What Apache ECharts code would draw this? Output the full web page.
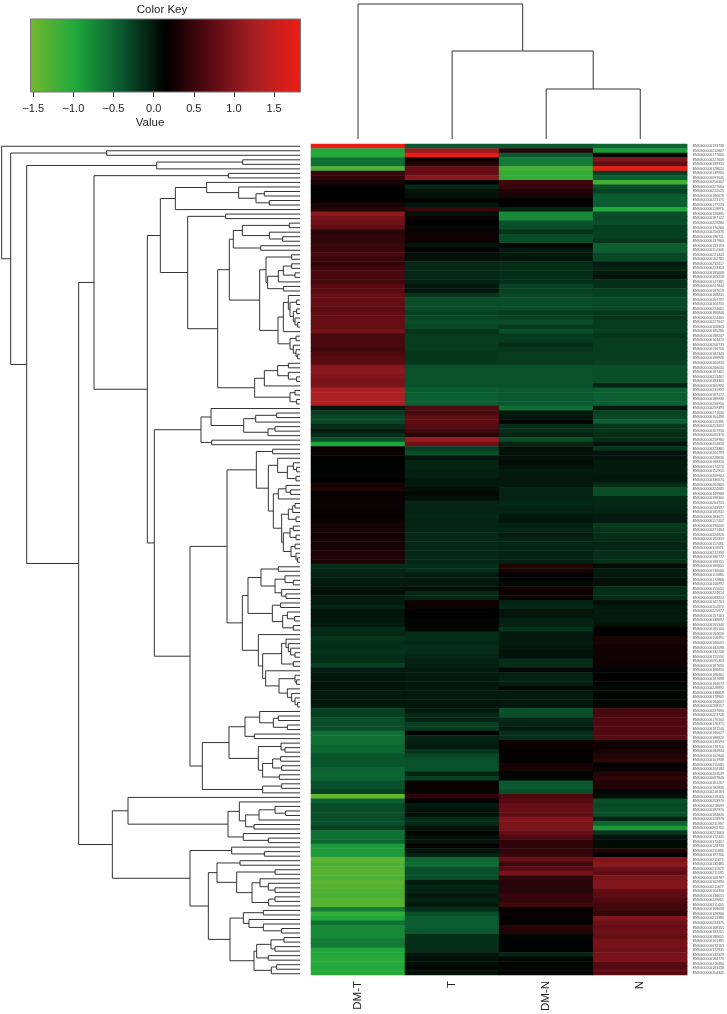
<!DOCTYPE html>
<html>
<head>
<meta charset="utf-8">
<style>html,body{margin:0;padding:0;background:#fff}#c{width:727px;height:1014px}</style>
<script src="https://cdn.jsdelivr.net/npm/echarts@6/dist/echarts.min.js"></script>
</head>
<body>
<div id="c"></div>
<script>
const samples = ['DM-T', 'T', 'DM-N', 'N'];

const colDMT = [
1.83,-.97,-1.03,-.57,-.57,-1.3,.5,.45,.3,.17,
.14,.14,.17,.3,.35,1.1,.9,.85,.75,.4,
.45,.45,.5,.5,.6,.5,.45,.55,.6,.6,
.55,.7,.7,.8,.8,.8,.75,.75,.8,.8,
.8,.9,.6,.6,.6,.55,.65,.7,.75,1.05,
1.05,1.0,.95,.95,1.3,1.3,1.3,1.3,.02,-.22,
-.3,-.3,-.14,-.02,-.14,-.36,-.97,.21,.21,.14,
.14,.14,.12,.12,.14,.3,.35,.19,.21,.21,
.21,.19,.18,.21,.28,.3,.28,.28,.28,.3,
.33,.33,.33,-.14,-.1,-.07,-.02,-.02,.02,.05,
-.02,-.02,-.07,0,.02,0,-.02,-.14,-.1,-.18,
-.14,-.14,-.18,-.14,-.14,-.26,-.02,0,0,.02,
.03,-.02,0,0,-.02,-.26,-.26,-.33,-.33,-.33,
-.57,-.57,-.57,-.5,-.5,-.38,-.38,-.38,-.47,-.5,
-.5,-.36,-.36,-.26,-1.45,-.44,-.33,-.33,-.33,-.33,
-.36,-.26,-.57,-.57,-.5,-.87,-.87,-.87,-1.42,-1.27,
-1.33,-1.33,-1.27,-1.38,-1.33,-1.27,-1.27,-1.33,-1.33,-.65,
-1.1,-.97,-.57,-.75,-.75,-.75,-.65,-.65,-.97,-.97,
-1.05,-1.03,-.97,-1.03];

const colT = [
-.4,1.15,1.75,.25,.35,.8,.8,1.05,.14,-.1,
.02,.05,.11,.02,.5,.05,.21,.14,.11,.21,
.25,.21,.02,.14,.05,.05,-.1,-.1,-.1,-.1,
-.07,0,0,-.18,-.33,-.33,-.33,-.26,-.3,-.33,
-.3,-.18,-.22,-.22,-.22,-.22,-.18,-.18,-.22,-.36,
-.36,-.36,-.36,-.36,-.44,-.44,-.44,-.44,.65,.6,
.75,.75,.7,.55,.4,1.15,.9,-.26,-.33,.02,
-.07,-.07,-.05,-.05,0,0,.05,.09,.05,-.07,
-.07,-.07,-.1,-.07,-.07,-.09,-.1,-.1,-.1,-.1,
-.1,-.1,-.1,-.14,-.14,-.02,-.02,-.02,.05,-.09,
-.09,.25,.21,.14,.14,.11,.11,.11,-.14,-.14,
-.1,-.13,-.13,-.1,-.05,-.05,-.02,-.02,-.02,-.01,
-.01,-.01,-.01,0,0,0,-.1,-.07,-.26,-.22,
.14,-.07,-.05,-.02,-.18,-.3,-.36,-.36,-.36,-.07,
-.26,.21,.21,.21,.45,.14,-.02,.02,.05,-.14,
-.1,.02,.11,.05,.02,.17,.02,-.07,-.5,-.57,
-.36,-.36,-.33,-.02,-.1,-.07,-.02,-.07,-.02,-.14,
-.33,-.44,-.44,-.44,-.4,-.14,-.14,-.14,-.14,.02,
.05,.05,.1,.05];

const colDMN = [
-.4,.4,-.4,-.65,-.65,-1.25,-1.1,-1.1,.55,.5,
.35,.3,.14,.14,-.07,-.75,-.75,-.36,-.33,-.18,
-.33,-.33,.11,-.02,-.02,.02,-.14,-.14,-.14,-.14,
-.14,-.26,-.26,-.3,-.33,-.33,-.33,-.22,-.26,-.33,
-.22,-.36,-.22,-.22,-.14,-.18,-.22,-.22,-.22,-.36,
-.36,-.36,-.36,-.36,-.4,-.4,-.4,-.4,-.57,-.02,
.02,.14,-.14,-.14,-.07,-.33,-.07,.05,.05,.05,
.08,.02,-.02,-.02,-.01,0,-.07,-.07,-.07,-.1,
-.07,-.07,0,0,-.05,-.09,-.02,-.09,-.09,-.09,
-.07,-.07,-.05,.35,.3,.14,.14,.09,.25,.23,
.21,-.07,-.1,.02,0,-.05,-.07,-.18,-.01,-.01,
-.02,0,.03,.03,-.14,-.14,.11,-.05,-.07,-.05,
.1,-.02,-.02,-.02,-.02,-.36,-.33,-.1,-.07,-.02,
-.14,-.14,.23,.21,.17,.17,.14,.3,.3,.11,
.11,-.4,-.4,-.33,.65,.7,.8,.8,.75,1.0,
.95,.95,.8,.65,.45,.45,.45,.5,.8,.55,
.7,.95,.45,.4,.4,.4,.5,.45,.55,.17,
.21,.17,.21,.4,.35,.11,.12,.12,.14,-.07,
.11,.11,.11,.11];

const colN = [
-.5,-.87,.09,1.0,.75,1.8,-.26,-.44,-1.2,-.33,
-.26,-.44,-.44,-.44,-.97,-.33,-.3,-.33,-.26,-.26,
-.26,-.18,-.44,-.44,-.3,-.3,-.02,-.07,-.02,.02,
-.14,-.14,-.26,-.26,-.3,-.3,-.3,-.18,-.18,-.22,
-.22,-.26,-.18,-.22,-.22,-.22,-.22,-.22,-.26,-.33,
-.33,-.33,-.33,-.07,-.44,-.44,-.44,-.44,0,-.26,
-.3,-.44,-.18,-.18,-.14,-.14,.02,-.18,.02,.02,
-.02,-.02,-.02,0,0,-.14,-.33,-.33,-.1,-.1,
-.08,-.07,-.02,-.02,-.22,-.18,-.14,-.14,-.07,-.09,
-.13,-.14,-.14,.08,-.02,-.01,.05,.05,-.14,-.14,
-.14,.05,0,-.02,-.02,-.02,.05,.17,.17,.3,
.3,.25,.25,.25,.23,.23,.12,.14,.17,.12,
.1,.1,.1,.1,.11,.6,.6,.65,.65,.65,
.65,.7,.25,.25,.3,.35,.4,.17,.21,.35,
.45,.35,.35,.11,.05,-.33,-.3,-.33,-.33,-.07,
-.5,-.87,-.18,.02,.08,.08,.35,.14,1.0,1.05,
.85,.75,.95,1.0,1.0,.75,.75,.65,.55,.55,
.45,1.0,.85,.8,.85,.8,.9,.9,.85,.95,
.95,.7,.7,.7];

const geneLabels = [
'ENSG00000193738','ENSG00000212607','ENSG00000177666','ENSG00000227646','ENSG00000199953','ENSG00000128624','ENSG00000139900','ENSG00000091645',
'ENSG00000250162','ENSG00000227660','ENSG00000222525','ENSG00000186676','ENSG00000223175','ENSG00000177233','ENSG00000118976','ENSG00000126895',
'ENSG00000197122','ENSG00000229280','ENSG00000176260','ENSG00000256876','ENSG00000196711','ENSG00000137960','ENSG00000133193','ENSG00000114346',
'ENSG00000221443','ENSG00000162782','ENSG00000232417','ENSG00000223304','ENSG00000185668','ENSG00000163218','ENSG00000147381','ENSG00000247844',
'ENSG00000187019','ENSG00000188431','ENSG00000264792','ENSG00000164755','ENSG00000224661','ENSG00000186846','ENSG00000224405','ENSG00000227647',
'ENSG00000168843','ENSG00000185286','ENSG00000188247','ENSG00000164472','ENSG00000266733','ENSG00000134750','ENSG00000182343','ENSG00000198948',
'ENSG00000260934','ENSG00000268034','ENSG00000187461','ENSG00000213467','ENSG00000183305','ENSG00000165990','ENSG00000231992','ENSG00000187172',
'ENSG00000189930','ENSG00000256950','ENSG00000259393','ENSG00000271630','ENSG00000164498','ENSG00000115396','ENSG00000253052','ENSG00000167950',
'ENSG00000065376','ENSG00000259780','ENSG00000254818','ENSG00000223381','ENSG00000264793','ENSG00000228630','ENSG00000188310','ENSG00000174270',
'ENSG00000152910','ENSG00000269904','ENSG00000136674','ENSG00000264865','ENSG00000224681','ENSG00000149988','ENSG00000198300','ENSG00000264753',
'ENSG00000243597','ENSG00000185941','ENSG00000183671','ENSG00000117402','ENSG00000196600','ENSG00000271464','ENSG00000224926','ENSG00000182359',
'ENSG00000117481','ENSG00000118971','ENSG00000222390','ENSG00000188772','ENSG00000198155','ENSG00000186805','ENSG00000136066','ENSG00000115885',
'ENSG00000172886','ENSG00000156992','ENSG00000155051','ENSG00000224814','ENSG00000088224','ENSG00000142763','ENSG00000114374','ENSG00000225972',
'ENSG00000157163','ENSG00000138692','ENSG00000165346','ENSG00000165140','ENSG00000164626','ENSG00000158491','ENSG00000180091','ENSG00000182098',
'ENSG00000132208','ENSG00000155550','ENSG00000095303','ENSG00000187690','ENSG00000186430','ENSG00000186461','ENSG00000187698','ENSG00000184673',
'ENSG00000228892','ENSG00000138859','ENSG00000178905','ENSG00000184602','ENSG00000268157','ENSG00000237660','ENSG00000223746','ENSG00000176104',
'ENSG00000176375','ENSG00000181240','ENSG00000186627','ENSG00000188820','ENSG00000136593','ENSG00000178710','ENSG00000184944','ENSG00000162840',
'ENSG00000167948','ENSG00000215085','ENSG00000204184','ENSG00000204539','ENSG00000087846','ENSG00000161267','ENSG00000182838','ENSG00000218163',
'ENSG00000219165','ENSG00000253970','ENSG00000218695','ENSG00000182970','ENSG00000184830','ENSG00000128978','ENSG00000211997','ENSG00000262750',
'ENSG00000223660','ENSG00000172341','ENSG00000172407','ENSG00000128730','ENSG00000211896','ENSG00000197706','ENSG00000211675','ENSG00000132485',
'ENSG00000211679','ENSG00000211592','ENSG00000168787','ENSG00000162896','ENSG00000211677','ENSG00000164330','ENSG00000138015','ENSG00000229661',
'ENSG00000211445','ENSG00000168658','ENSG00000128966','ENSG00000213380','ENSG00000233375','ENSG00000188155','ENSG00000187201','ENSG00000188655',
'ENSG00000161381','ENSG00000072163','ENSG00000172935','ENSG00000132329','ENSG00000184776','ENSG00000216490','ENSG00000183458','ENSG00000204345'
];

// dendrogram nodes: [merge position, upper child, lower child]; 0 is a leaf
const rowTree = [5, 0, [32, [320,0,0], [80,
  [470, [728,0,0], 0],
  [236,
    [282, [685,0,0], [442,
      [481,
        [526, [620, 0, [716, 0, [768, [793,0,0], [808,0,0]]]], 0],
        [563, [677,0,0], [653,
          [688,
            [700, [727, [868,0,0], [808,0,[848,0,0]]], [782,0,0]],
            [779,
              [798, [875,0,0], [803, [835, [850, [875,0,0], [885,0,0]], 0], [850,0,0]]],
              [834,
                [850, [865, 0, [870, [890,0,0], [880, [890,0,0], [885,0,[893,0,0]]]]], 0],
                [870, [888,0,0], [880, 0, [888, 0, [893,0,0]]]]
              ]
            ]
          ],
          [764, [793, [833, [865,0,0], [865,0,[890,0,0]]], 0], [870, [885,0,0], [890,0,0]]]
        ]]
      ],
      [463,
        [603, [633, 0, [731, [767, [830,0,0], 0], [804, [825,0,0], 0]]], [635,0,0]],
        [570,
          [681,
            [769, [818,0,0], [805,
              [833, 0, [862, [880,0,[890,0,0]], [888,0,0]]],
              [820,
                [835, [858, 0, [872,0,0]], 0],
                [845,
                  [865, [878, [885,0,0], 0], [888,0,0]],
                  [850, [870, [880,0,0], [888,0,0]], [873, [885,0,0], [888,0,[893,0,0]]]]
                ]
              ]
            ]],
            [727,
              [744,
                [783, [835,0,0], [825, [855,0,[880,0,0]], [845,0,[858,0,0]]]],
                [817, [842,0,0], [848, [862,0,[884,0,0]], [880,0,0]]]
              ],
              [775, 0, [788,
                [845, [858,0,[865,0,[872,0,[885,0,0]]]], [880,0,0]],
                [797, 0, [837, [885,0,[890,0,0]], [862,0,[875,0,[885,0,[893,0,0]]]]]]
              ]]
            ]
          ],
          [607,
            [687,
              [735, [779,0,[820,[835,0,0],[862,0,0]]], [763,0,0]],
              [775, [843,0,[855,0,0]], [788, [818,[842,0,0],[845,0,0]], [838,0,0]]]
            ],
            [788, [845,0,0], 0]
          ]
        ]
      ]
    ]],
    [337,
      [384, 0, [684,
        [718, 0, [737, [777, [825,0,[857,0,0]], 0], [762,0,0]]],
        [730, 0, [805,0,0]]
      ]],
      [570,
        [695, 0, [793,0,0]],
        [625,
          [651, [720,0,0], [710, [825,0,0], [756, [780,0,[805,0,[825,0,0]]], [806,[825,0,0],0]]]],
          [690,
            [730, [790,0,0], [747,0,[790,0,[845,0,0]]]],
            [762, [770, [813,[852,0,0],[825,0,0]], [805,0,0]], [814,[830,0,0],0]]
          ]
        ]
      ]
    ]
  ]
]]];
const rowLeafPos = 900;

const colTree = [135, 0, [88, 0, [50, 0, 0]]];
const colLeafPos = 0;

const keyRange = [-1.535, 1.83];
const keyTicks = [-1.5, -1, -0.5, 0, 0.5, 1, 1.5];
const keyColors = ['#74b82e', '#20a83c', '#0a5a30', '#000000', '#590a12', '#a82025', '#ee1c14'];

// walk a tree into segments, leaves numbered in order
function flatten(tree, leafPos) {
  const out = [];
  let next = 0;
  (function walk(n) {
    if (n === 0) return { s: next++, p: leafPos };
    const a = walk(n[1]), b = walk(n[2]);
    out.push([n[0], a.s, b.s, a.p, b.p]);
    return { s: (a.s + b.s) / 2, p: n[0] };
  })(tree);
  return out;
}

const heatData = [];
[colDMT, colT, colDMN, colN].forEach((col, c) => col.forEach((v, r) => heatData.push([c, r, v])));

const rowSegs = flatten(rowTree, rowLeafPos);
const colSegs = flatten(colTree, colLeafPos);
const font = '"Liberation Sans", Arial, sans-serif';
const lineCol = '#333';

const chart = echarts.init(document.getElementById('c'), null, { renderer: 'canvas' });
const hiddenAxis = { show: false };
chart.setOption({
  animation: false,
  backgroundColor: '#fff',
  title: [
    { text: 'Color Key', left: 162, top: 3.5, padding: 0, textAlign: 'center', textStyle: { fontFamily: font, fontSize: 11.5, fontWeight: 'normal', color: '#222' } },
    { text: 'Value', left: 150, top: 117, padding: 0, textAlign: 'center', textStyle: { fontFamily: font, fontSize: 11.5, fontWeight: 'normal', color: '#222' } }
  ],
  grid: [
    { left: 311, top: 144, width: 376.3, height: 832 },
    { left: 0, top: 144, width: 300, height: 832 },
    { left: 311, top: 4, width: 376.3, height: 135 },
    { left: 30.5, top: 19, width: 270, height: 73 }
  ],
  xAxis: [
    { gridIndex: 0, type: 'category', data: samples, position: 'bottom',
      axisLine: { show: false }, axisTick: { show: false },
      axisLabel: { rotate: 90, margin: 6, fontSize: 11.5, fontFamily: font, color: '#222' } },
    { gridIndex: 1, type: 'value', min: 0, max: 900, ...hiddenAxis },
    { gridIndex: 2, type: 'value', min: -0.5, max: 3.5, ...hiddenAxis },
    { gridIndex: 3, type: 'value', min: keyRange[0], max: keyRange[1], position: 'bottom',
      splitLine: { show: false },
      axisLine: { show: false },
      axisTick: { show: true, length: 5, customValues: keyTicks, lineStyle: { color: '#333', width: 1 } },
      axisLabel: { show: true, margin: 11, fontSize: 11, fontFamily: font, color: '#222',
        customValues: keyTicks,
        formatter: v => (v < 0 ? '\u2212' : '') + Math.abs(v).toFixed(1) } }
  ],
  yAxis: [
    { gridIndex: 0, type: 'category', data: geneLabels, inverse: true, position: 'right',
      axisLine: { show: false }, axisTick: { show: false },
      axisLabel: { interval: 0, margin: 5.5, fontSize: 3.5, fontFamily: font, color: '#555' } },
    { gridIndex: 1, type: 'value', min: -0.5, max: colDMT.length - 0.5, inverse: true, ...hiddenAxis },
    { gridIndex: 2, type: 'value', min: 0, max: 135, ...hiddenAxis },
    { gridIndex: 3, type: 'value', min: 0, max: 1, ...hiddenAxis }
  ],
  visualMap: { show: false, type: 'continuous', seriesIndex: 0, dimension: 2,
    min: keyRange[0], max: keyRange[1], inRange: { color: keyColors } },
  series: [
    { type: 'heatmap', xAxisIndex: 0, yAxisIndex: 0, data: heatData, progressive: 0,
      itemStyle: { borderWidth: 0 }, emphasis: { disabled: true } },
    { type: 'custom', xAxisIndex: 1, yAxisIndex: 1, data: rowSegs, silent: true, clip: false,
      renderItem: (p, api) => ({
        type: 'polyline',
        shape: { points: [
          api.coord([api.value(3), api.value(1)]),
          api.coord([api.value(0), api.value(1)]),
          api.coord([api.value(0), api.value(2)]),
          api.coord([api.value(4), api.value(2)])
        ] },
        style: { fill: null, stroke: lineCol, lineWidth: 1 }
      }) },
    { type: 'custom', xAxisIndex: 2, yAxisIndex: 2, data: colSegs, silent: true, clip: false,
      renderItem: (p, api) => ({
        type: 'polyline',
        shape: { points: [
          api.coord([api.value(1), api.value(3)]),
          api.coord([api.value(1), api.value(0)]),
          api.coord([api.value(2), api.value(0)]),
          api.coord([api.value(2), api.value(4)])
        ] },
        style: { fill: null, stroke: lineCol, lineWidth: 1 }
      }) },
    { type: 'custom', xAxisIndex: 3, yAxisIndex: 3, data: [keyRange], silent: true, clip: false,
      renderItem: (p, api) => {
        const a = api.coord([api.value(0), 1]), b = api.coord([api.value(1), 0]);
        return {
          type: 'rect',
          shape: { x: a[0], y: a[1], width: b[0] - a[0], height: b[1] - a[1] },
          style: {
            fill: new echarts.graphic.LinearGradient(0, 0, 1, 0,
              keyColors.map((c, i) => ({ offset: i / (keyColors.length - 1), color: c }))),
            stroke: '#777', lineWidth: 1
          }
        };
      } }
  ]
});
</script>
</body>
</html>
